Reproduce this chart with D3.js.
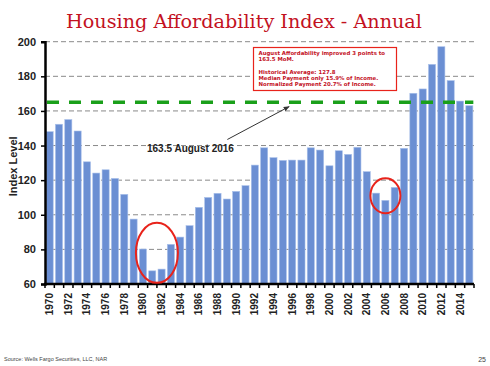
<!DOCTYPE html>
<html>
<head>
<meta charset="utf-8">
<script src="https://cdn.jsdelivr.net/npm/d3@7"></script>
<style>
  body { margin: 0; background: #fff; }
  svg { display: block; }
</style>
</head>
<body>
<svg id="chartSVG" width="490" height="366"></svg>
<script>
// years and annual index values
const years = d3.range(1970, 2016);
const indexValues = [
    148, 152.3, 155, 148.4, 130.6, 124.1, 126, 121, 111.8, 97.5,
    80.2, 67.6, 68.6, 82.9, 87.1, 93.7, 104.3, 110, 112.4, 109.1,
    113.5, 116.8, 128.7, 138.7, 133, 131.4, 131.6, 131.6, 138.7, 137.4,
    128.3, 137, 134.9, 139, 124.9, 112.5, 108.3, 115.8, 138.4, 170.2,
    172.7, 186.9, 197.1, 177.5, 165.7, 163
];
const yTicks = [60, 80, 100, 120, 140, 160, 180, 200];
const xTickYears = d3.range(1970, 2015, 2);
const currentLevel = 165;
const noteLines = [
    "August Affordability improved 3 points to",
    "163.5 MoM.",
    "",
    "Historical Average:  127.8",
    "Median Payment only 15.9% of Income.",
    "Normalized Payment 20.7% of Income."
];

const plotLeft = 45, plotRight = 474, plotTop = 41.7, plotBottom = 284;
const barColour = "#6b8fd3";

var svg = d3.select("#chartSVG");

/* ---------- Scales ---------- */
var yearScale = d3.scaleBand()
    .domain(years)
    .range([plotLeft, plotRight])
    .paddingInner(0.24)
    .paddingOuter(0.12);
var levelScale = d3.scaleLinear()
    .domain([60, 200])
    .range([plotBottom, plotTop]);
var yearCentre = y => yearScale(y) + yearScale.bandwidth() / 2;

/* ---------- Title ---------- */
svg.append("text")
    .text("Housing Affordability Index - Annual")
    .attr("x", 244)
    .attr("y", 28)
    .attr("text-anchor", "middle")
    .attr("font-family", "'DejaVu Serif', Georgia, serif")
    .attr("font-size", 19.2)
    .attr("fill", "#c3121f");

/* ---------- Grid ---------- */
svg.append("g").selectAll("line")
    .data(yTicks.slice(1))
    .enter().append("line")
        .attr("x1", plotLeft)
        .attr("x2", plotRight)
        .attr("y1", d => levelScale(d))
        .attr("y2", d => levelScale(d))
        .attr("stroke", "#8a8a8a")
        .attr("stroke-width", 1)
        .attr("stroke-dasharray", "5,3");

/* ---------- Bars ---------- */
svg.append("g").selectAll("rect")
    .data(indexValues)
    .enter().append("rect")
        .attr("x", (d, i) => yearScale(years[i]))
        .attr("width", yearScale.bandwidth())
        .attr("y", d => levelScale(d))
        .attr("height", d => levelScale(60) - levelScale(d))
        .attr("fill", barColour)
        .attr("stroke", "#a9c0ea")
        .attr("stroke-width", 0.6);

/* ---------- Current level line ---------- */
svg.append("line")
    .attr("x1", plotLeft + 2)
    .attr("x2", yearCentre(2015) + 4)
    .attr("y1", levelScale(currentLevel))
    .attr("y2", levelScale(currentLevel))
    .attr("stroke", "#1aa01a")
    .attr("stroke-width", 3.5)
    .attr("stroke-dasharray", "12,10");

/* ---------- Axes ---------- */
var yAxis = d3.axisLeft(levelScale).tickValues(yTicks).tickSize(4).tickPadding(5);
var yAxisG = svg.append("g")
    .attr("transform", "translate(" + plotLeft + ",0)")
    .call(yAxis);
yAxisG.select(".domain").attr("stroke", "#000").attr("stroke-width", 2.5);
yAxisG.selectAll(".tick line").attr("stroke", "#000").attr("stroke-width", 1.5);
yAxisG.selectAll(".tick text")
    .attr("font-family", "Arial, 'Liberation Sans', sans-serif")
    .attr("font-weight", "bold")
    .attr("font-size", 11)
    .attr("fill", "#222");

// little ticks between bars on the bottom axis
var bottomG = svg.append("g");
bottomG.selectAll("line")
    .data(years.concat([2016]))
    .enter().append("line")
        .attr("x1", (d, i) => i < years.length ? yearScale(d) - yearScale.step() * yearScale.paddingInner() / 2 : plotRight)
        .attr("x2", (d, i) => i < years.length ? yearScale(d) - yearScale.step() * yearScale.paddingInner() / 2 : plotRight)
        .attr("y1", plotBottom)
        .attr("y2", plotBottom + 4)
        .attr("stroke", "#000")
        .attr("stroke-width", 1.5);
bottomG.append("line")
    .attr("x1", plotLeft - 1)
    .attr("x2", plotRight)
    .attr("y1", plotBottom)
    .attr("y2", plotBottom)
    .attr("stroke", "#000")
    .attr("stroke-width", 2.5);

bottomG.selectAll("text")
    .data(xTickYears)
    .enter().append("text")
        .text(d => d)
        .attr("text-anchor", "end")
        .attr("transform", d => "translate(" + (yearCentre(d) + 3.5) + "," + (plotBottom + 9) + ") rotate(-90)")
        .attr("font-family", "Arial, 'Liberation Sans', sans-serif")
        .attr("font-weight", "bold")
        .attr("font-size", 10)
        .attr("fill", "#222");

/* ---------- Axis Caption ---------- */
svg.append("text")
    .text("Index Level")
    .attr("text-anchor", "middle")
    .attr("transform", "translate(17," + levelScale(128) + ") rotate(-90)")
    .attr("font-family", "Arial, 'Liberation Sans', sans-serif")
    .attr("font-weight", "bold")
    .attr("font-size", 11)
    .attr("fill", "#222");

/* ---------- Annotations ---------- */
svg.append("defs").append("marker")
    .attr("id", "arrowHead")
    .attr("viewBox", "0 0 10 10")
    .attr("refX", 9).attr("refY", 5)
    .attr("markerWidth", 6).attr("markerHeight", 6)
    .attr("orient", "auto")
    .append("path")
        .attr("d", "M0,1 L10,5 L0,9 Z")
        .attr("fill", "#333");

svg.append("line")
    .attr("x1", yearCentre(1989) + 0.5)
    .attr("y1", levelScale(143.5))
    .attr("x2", yearCentre(1996) - 3)
    .attr("y2", levelScale(162.5))
    .attr("stroke", "#333")
    .attr("stroke-width", 1)
    .attr("marker-end", "url(#arrowHead)");

svg.append("text")
    .text("163.5 August  2016")
    .attr("x", 147)
    .attr("y", levelScale(136.5))
    .attr("font-family", "Arial, 'Liberation Sans', sans-serif")
    .attr("font-weight", "bold")
    .attr("font-size", 10)
    .attr("fill", "#222");

// red circles around the lows
svg.append("ellipse")
    .attr("cx", (yearCentre(1981) + yearCentre(1982)) / 2)
    .attr("cy", levelScale(78))
    .attr("rx", 21)
    .attr("ry", 30)
    .attr("fill", "none")
    .attr("stroke", "#e8231b")
    .attr("stroke-width", 2);
svg.append("ellipse")
    .attr("cx", yearCentre(2006))
    .attr("cy", levelScale(111))
    .attr("rx", 15)
    .attr("ry", 17.5)
    .attr("fill", "none")
    .attr("stroke", "#e8231b")
    .attr("stroke-width", 2);

// note box
var noteG = svg.append("g");
noteG.append("rect")
    .attr("x", 253.5)
    .attr("y", 47.5)
    .attr("width", 143)
    .attr("height", 43)
    .attr("fill", "#fff")
    .attr("stroke", "#e8231b")
    .attr("stroke-width", 1.2);
noteG.selectAll("text")
    .data(noteLines)
    .enter().append("text")
        .text(d => d)
        .attr("x", 258.5)
        .attr("y", (d, i) => 55.2 + i * 6.1)
        .attr("font-family", "'DejaVu Sans', Verdana, sans-serif")
        .attr("font-weight", "bold")
        .attr("font-size", 5.4)
        .attr("fill", "#c3121f");

/* ---------- Footer ---------- */
svg.append("text")
    .text("Source: Wells Fargo Securities, LLC, NAR")
    .attr("x", 4)
    .attr("y", 361)
    .attr("font-family", "Arial, 'Liberation Sans', sans-serif")
    .attr("font-size", 5.5)
    .attr("fill", "#444");
svg.append("text")
    .text("25")
    .attr("x", 486)
    .attr("y", 362)
    .attr("text-anchor", "end")
    .attr("font-family", "Arial, 'Liberation Sans', sans-serif")
    .attr("font-size", 7)
    .attr("fill", "#444");
</script>
</body>
</html>
